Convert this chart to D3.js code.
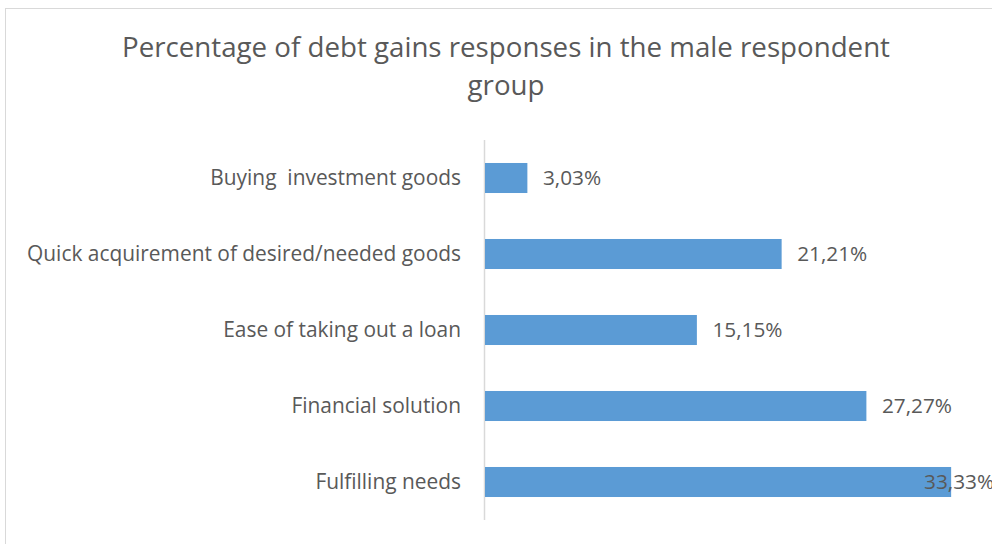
<!DOCTYPE html>
<html>
<head>
<meta charset="utf-8">
<script src="https://cdn.jsdelivr.net/npm/d3@7"></script>
<style>
  html, body { margin: 0; padding: 0; background: #fff; }
  svg { display: block; }
</style>
</head>
<body>
<svg id="chart" width="992" height="544"></svg>
<script>
// Survey categories, top to bottom
const categories = [
  "Buying  investment goods",
  "Quick acquirement of desired/needed goods",
  "Ease of taking out a loan",
  "Financial solution",
  "Fulfilling needs"
];
// Share of responses, percent
const values = [3.03, 21.21, 15.15, 27.27, 33.33];
const valueLabels = ["3,03%", "21,21%", "15,15%", "27,27%", "33,33%"];
const titleLines = ["Percentage of debt gains responses in the male respondent", "group"];

const W = 992, H = 544;
const font = "'Open Sans', sans-serif";
const textColor = "#595959";
const barColor = "#5B9BD5";

const svg = d3.select("#chart");

// Chart area frame
svg.append("rect")
  .attr("x", 5.5).attr("y", 8.5)
  .attr("width", W + 20).attr("height", H + 20)
  .attr("fill", "#fff")
  .attr("stroke", "#d9d9d9")
  .attr("stroke-width", 1);

// Title
svg.append("text")
  .attr("x", 506).attr("y", 57)
  .attr("text-anchor", "middle")
  .attr("font-family", font)
  .attr("font-size", 27.7)
  .attr("fill", textColor)
  .selectAll("tspan")
  .data(titleLines)
  .join("tspan")
  .attr("x", 506)
  .attr("dy", (d, i) => i === 0 ? 0 : 38)
  .text(d => d);

const plotLeft = 484.5;
const x = d3.scaleLinear().domain([0, 35]).range([plotLeft, 974]);
const y = d3.scaleBand().domain(categories).range([140, 520]).paddingInner(0.605).paddingOuter(0.3025);

// Category axis line
svg.append("line")
  .attr("x1", plotLeft).attr("x2", plotLeft)
  .attr("y1", 140).attr("y2", 520)
  .attr("stroke", "#d9d9d9")
  .attr("stroke-width", 1.5);

// Bars
svg.append("g")
  .selectAll("rect")
  .data(categories)
  .join("rect")
  .attr("x", x(0) + 0.5)
  .attr("y", d => y(d))
  .attr("width", (d, i) => x(values[i]) - x(0))
  .attr("height", y.bandwidth())
  .attr("fill", barColor);

// Category labels
svg.append("g")
  .selectAll("text")
  .data(categories)
  .join("text")
  .attr("x", 461)
  .attr("y", d => y(d) + y.bandwidth() / 2)
  .attr("dy", "0.35em")
  .attr("text-anchor", "end")
  .attr("font-family", font)
  .attr("font-size", 20.9)
  .attr("fill", textColor)
  .style("white-space", "pre")
  .text(d => d);

// Value labels, kept inside the chart's right edge
svg.append("g")
  .selectAll("text")
  .data(categories)
  .join("text")
  .attr("x", (d, i) => Math.min(x(values[i]) + 16, 924))
  .attr("y", d => y(d) + y.bandwidth() / 2)
  .attr("dy", "0.35em")
  .attr("font-family", font)
  .attr("font-size", 20.8)
  .attr("fill", textColor)
  .text((d, i) => valueLabels[i]);
</script>
</body>
</html>
